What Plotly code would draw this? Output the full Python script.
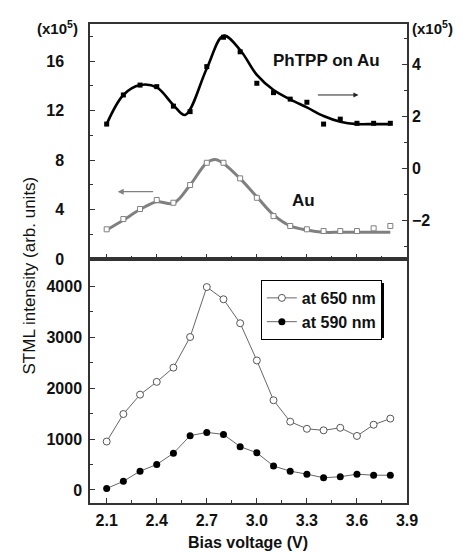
import plotly.graph_objects as go

# ---------------- data ----------------
bias = [2.1, 2.2, 2.3, 2.4, 2.5, 2.6, 2.7, 2.8, 2.9, 3.0, 3.1, 3.2, 3.3, 3.4, 3.5, 3.6, 3.7, 3.8]

# upper panel, PhTPP on Au (right axis, x10^5)
phtpp_pts = [1.69, 2.81, 3.19, 3.13, 2.38, 2.17, 3.90, 5.03, 4.47, 3.26, 2.90, 2.65, 2.53, 1.69, 1.88, 1.72, 1.72, 1.72]
phtpp_fit_x = [2.1, 2.2, 2.3, 2.4, 2.5, 2.57, 2.7, 2.8, 2.9, 3.0, 3.1, 3.2, 3.3, 3.4, 3.5, 3.6, 3.7, 3.8]
phtpp_fit_y = [1.69, 2.81, 3.19, 3.10, 2.42, 2.04, 3.83, 5.09, 4.54, 3.58, 3.00, 2.64, 2.33, 2.00, 1.78, 1.69, 1.69, 1.69]

# upper panel, Au (left axis, x10^5)
au_pts = [2.40, 3.23, 4.04, 4.77, 4.55, 5.98, 7.78, 7.78, 6.52, 4.95, 3.47, 2.67, 2.40, 2.26, 2.26, 2.26, 2.48, 2.67]
au_fit_x = [2.1, 2.2, 2.3, 2.4, 2.5, 2.6, 2.7, 2.75, 2.8, 2.9, 3.0, 3.1, 3.2, 3.3, 3.4, 3.5, 3.6, 3.7, 3.8]
au_fit_y = [2.34, 3.15, 4.00, 4.63, 4.50, 5.98, 7.78, 8.05, 7.73, 6.50, 5.03, 3.56, 2.67, 2.34, 2.16, 2.16, 2.16, 2.16, 2.16]

# lower panel
i650 = [950, 1490, 1870, 2120, 2400, 3000, 3980, 3740, 3270, 2540, 1760, 1340, 1200, 1170, 1220, 1060, 1280, 1400]
i590 = [30, 170, 370, 500, 720, 1065, 1130, 1090, 850, 730, 470, 370, 310, 240, 260, 310, 290, 290]

xticks = [2.1, 2.4, 2.7, 3.0, 3.3, 3.6, 3.9]

FONT = "Liberation Sans, Arial, sans-serif"
AX = "#333333"
GRAY = "#808080"
TXT = "#111111"

fig = go.Figure()

fig.add_trace(go.Scatter(x=phtpp_fit_x, y=phtpp_fit_y, xaxis="x2", yaxis="y2", mode="lines",
                         line=dict(color="black", width=2.6, shape="spline", smoothing=1.0),
                         showlegend=False, hoverinfo="skip"))
fig.add_trace(go.Scatter(x=bias, y=phtpp_pts, xaxis="x2", yaxis="y2", mode="markers",
                         marker=dict(symbol="square", size=5, color="black"),
                         showlegend=False))
fig.add_trace(go.Scatter(x=au_fit_x, y=au_fit_y, xaxis="x2", yaxis="y", mode="lines",
                         line=dict(color=GRAY, width=3, shape="spline", smoothing=1.0),
                         showlegend=False, hoverinfo="skip"))
fig.add_trace(go.Scatter(x=bias, y=au_pts, xaxis="x2", yaxis="y", mode="markers",
                         marker=dict(symbol="square", size=5, color="white",
                                     line=dict(color=GRAY, width=1)),
                         showlegend=False))

fig.add_trace(go.Scatter(x=bias, y=i650, xaxis="x", yaxis="y3", mode="lines+markers",
                         name="at 650 nm",
                         line=dict(color="#666666", width=1),
                         marker=dict(symbol="circle", size=7, color="white",
                                     line=dict(color="#555555", width=1))))
fig.add_trace(go.Scatter(x=bias, y=i590, xaxis="x", yaxis="y3", mode="lines+markers",
                         name="at 590 nm",
                         line=dict(color="#666666", width=1),
                         marker=dict(symbol="circle", size=7, color="black")))

split = 0.5094
tickfont = dict(family=FONT, size=16, color=TXT, weight="bold")

common_x = dict(range=[2.0, 3.9], tickmode="array", tickvals=xticks,
                showline=True, linecolor=AX, linewidth=1.5, mirror=True,
                ticks="inside", ticklen=5, tickcolor=AX, tickwidth=1,
                minor=dict(ticks="inside", dtick=0.15, tick0=2.1, ticklen=3, tickcolor=AX),
                showgrid=False, zeroline=False, automargin=False)

fig.update_layout(
    width=462, height=552,
    margin=dict(l=90, r=55, t=24, b=49),
    paper_bgcolor="white", plot_bgcolor="white",
    font=dict(family=FONT, size=16, color=TXT),
    xaxis=dict(**common_x, anchor="y3", tickfont=tickfont, tickformat=".1f",
               ticklabelstandoff=2),
    xaxis2=dict(**common_x, anchor="y", matches="x", showticklabels=False),
    yaxis=dict(domain=[split, 1], range=[0, 19], anchor="x2",
               tickvals=[0, 4, 8, 12, 16], tickfont=tickfont,
               showline=True, linecolor=AX, linewidth=1.5,
               ticks="inside", ticklen=5, tickcolor=AX,
               minor=dict(ticks="inside", dtick=2, ticklen=3, tickcolor=AX),
               ticklabelstandoff=21, automargin=False,
               showgrid=False, zeroline=False),
    yaxis2=dict(range=[-3.5, 5.54], overlaying="y", side="right", anchor="x2",
                tickvals=[-2, 0, 2, 4], tickfont=tickfont,
                showline=True, linecolor=AX, linewidth=1.5,
                ticks="inside", ticklen=5, tickcolor=AX,
                minor=dict(ticks="inside", dtick=1, ticklen=3, tickcolor=AX),
                automargin=False,
                showgrid=False, zeroline=False),
    yaxis3=dict(domain=[0, split], range=[-255, 4530], anchor="x",
                tickvals=[0, 1000, 2000, 3000, 4000], tickfont=tickfont,
                showline=True, linecolor=AX, linewidth=1.5, mirror=True,
                ticks="inside", ticklen=5, tickcolor=AX,
                minor=dict(ticks="inside", dtick=500, ticklen=3, tickcolor=AX),
                ticklabelstandoff=3, automargin=False,
                showgrid=False, zeroline=False),
    legend=dict(x=0.539, y=0.4656, xanchor="left", yanchor="top",
                bgcolor="white", bordercolor="black", borderwidth=1,
                font=dict(family=FONT, size=16, color=TXT, weight="bold"),
                tracegroupgap=0),
    showlegend=True,
)

# legend drop shadow
fig.add_shape(type="rect", xref="paper", yref="paper",
              x0=0.552, x1=0.9274, y0=0.3445, y1=0.4593,
              fillcolor="black", line=dict(width=0), layer="above")

# texts
fig.add_annotation(text="STML intensity (arb. units)", xref="paper", yref="paper",
                   x=-0.224, y=0.476, textangle=-90, showarrow=False,
                   font=dict(family=FONT, size=17, color=TXT))
fig.add_annotation(text="Bias voltage (V)", xref="paper", yref="paper",
                   x=0.498, y=-0.0835, xanchor="center", yanchor="middle", showarrow=False,
                   font=dict(family=FONT, size=16, color=TXT, weight="bold"))
fig.add_annotation(text="(x10<sup>5</sup>)", xref="paper", yref="paper",
                   x=-0.104, y=0.9937, xanchor="center", yanchor="middle", showarrow=False,
                   font=dict(family=FONT, size=15, color=TXT, weight="bold"))
fig.add_annotation(text="(x10<sup>5</sup>)", xref="paper", yref="paper",
                   x=1.0095, y=0.9937, xanchor="left", yanchor="middle", showarrow=False,
                   font=dict(family=FONT, size=15, color=TXT, weight="bold"))
fig.add_annotation(text="PhTPP on Au", xref="x2", yref="y2", x=3.42, y=4.15,
                   showarrow=False, font=dict(family=FONT, size=17, color=TXT, weight="bold"))
fig.add_annotation(text="Au", xref="x2", yref="y", x=3.28, y=4.77,
                   showarrow=False, font=dict(family=FONT, size=17, color=TXT, weight="bold"))

# arrows
fig.add_annotation(x=2.166, y=5.44, ax=2.387, ay=5.44, xref="x2", yref="y",
                   axref="x2", ayref="y", text="", showarrow=True,
                   arrowhead=2, arrowsize=1, arrowwidth=1.2, arrowcolor=GRAY)
fig.add_annotation(x=3.609, y=2.81, ax=3.357, ay=2.81, xref="x2", yref="y2",
                   axref="x2", ayref="y2", text="", showarrow=True,
                   arrowhead=2, arrowsize=1, arrowwidth=1, arrowcolor="#222222")

fig.write_html("out.html", config={"displayModeBar": False},
               post_script="document.body.style.margin='0px';")
